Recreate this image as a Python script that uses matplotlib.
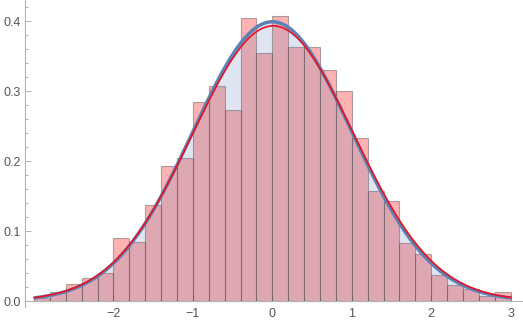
import numpy as np
import matplotlib
matplotlib.use("Agg")
import matplotlib.pyplot as plt

# --------- data -------------------------------

bin_edges = [-3.0, -2.8, -2.6, -2.4, -2.2, -2.0, -1.8, -1.6, -1.4, -1.2, -1.0,
             -0.8, -0.6, -0.4, -0.2, 0.0, 0.2, 0.4, 0.6, 0.8, 1.0,
             1.2, 1.4, 1.6, 1.8, 2.0, 2.2, 2.4, 2.6, 2.8, 3.0]

# histogram heights (density)
hist_heights = [0.005, 0.0125, 0.025, 0.0325, 0.04, 0.09, 0.085, 0.1375, 0.1925, 0.205,
                0.285, 0.3075, 0.2725, 0.405, 0.355, 0.4075, 0.3625, 0.3625, 0.33, 0.30,
                0.2325, 0.1575, 0.1425, 0.0825, 0.0675, 0.0375, 0.0225, 0.0175, 0.0075, 0.0125]

# two normal curves (mean, sigma)
blue_mu, blue_sigma = 0.0, 1.0
red_mu, red_sigma = 0.01, 1.015

x_ticks = [-2, -1, 0, 1, 2, 3]
y_ticks = [0.0, 0.1, 0.2, 0.3, 0.4]


def normal_pdf(x, mu, sigma):
    return np.exp(-(x - mu) ** 2 / (2 * sigma ** 2)) / (sigma * np.sqrt(2 * np.pi))


plt.rcParams["font.family"] = ["Liberation Sans", "DejaVu Sans"]

fig = plt.figure(figsize=(5.23, 3.27), dpi=100)
ax = fig.add_axes([0, 0, 1, 1])

# pixel mapping of the reference: x=-3 at 34px, 79.45px per unit; y=0 at 301px, 700px per unit
ax.set_xlim(-3.428, 3.155)
ax.set_ylim(-0.0371, 0.4300)

blue = "#5E81B5"
red_line = "#EA1020"

widths = np.diff(bin_edges)
ax.bar(bin_edges[:-1], hist_heights, width=widths, align="edge",
       facecolor=(1.0, 0.0, 0.0, 0.30), edgecolor=(0.30, 0.30, 0.30, 0.45),
       linewidth=0.8, zorder=2)

xs = np.linspace(bin_edges[0], bin_edges[-1], 500)
blue_y = normal_pdf(xs, blue_mu, blue_sigma)
red_y = normal_pdf(xs, red_mu, red_sigma)

ax.fill_between(xs, 0, blue_y, color=blue, alpha=0.2, linewidth=0, zorder=3)
ax.plot(xs, blue_y, color=blue, linewidth=2.5, zorder=4, solid_capstyle="butt")
ax.plot(xs, red_y, color=red_line, linewidth=1.2, zorder=5)

# -------- Mathematica-like axes --------
for s in ["top", "right"]:
    ax.spines[s].set_visible(False)
ax.spines["left"].set_position(("data", -3.11))
ax.spines["bottom"].set_position(("data", 0))
ax.spines["left"].set_bounds(-0.008, 0.43)
ax.spines["bottom"].set_bounds(-3.11, 3.155)
for s in ["left", "bottom"]:
    ax.spines[s].set_color("#b3b3b3")
    ax.spines[s].set_linewidth(0.8)
    ax.spines[s].set_zorder(6)

ax.set_xticks(x_ticks)
ax.set_xticklabels([f"{t}".replace("-", "\u2212") for t in x_ticks])
ax.set_xticks(np.arange(-3.0, 3.01, 0.2), minor=True)
ax.set_yticks(y_ticks)
ax.set_yticklabels([f"{t:.1f}" for t in y_ticks])
ax.set_yticks(np.arange(0.0, 0.431, 0.02), minor=True)

ax.tick_params(which="both", direction="in", color="#b3b3b3", width=0.7,
               labelcolor="#555555", labelsize=9)
ax.tick_params(which="major", length=4.5)
ax.tick_params(which="minor", length=2.5)
ax.tick_params(axis="x", pad=5)
ax.tick_params(axis="y", pad=3)

fig.savefig("out.png", dpi=100)
plt.close(fig)
